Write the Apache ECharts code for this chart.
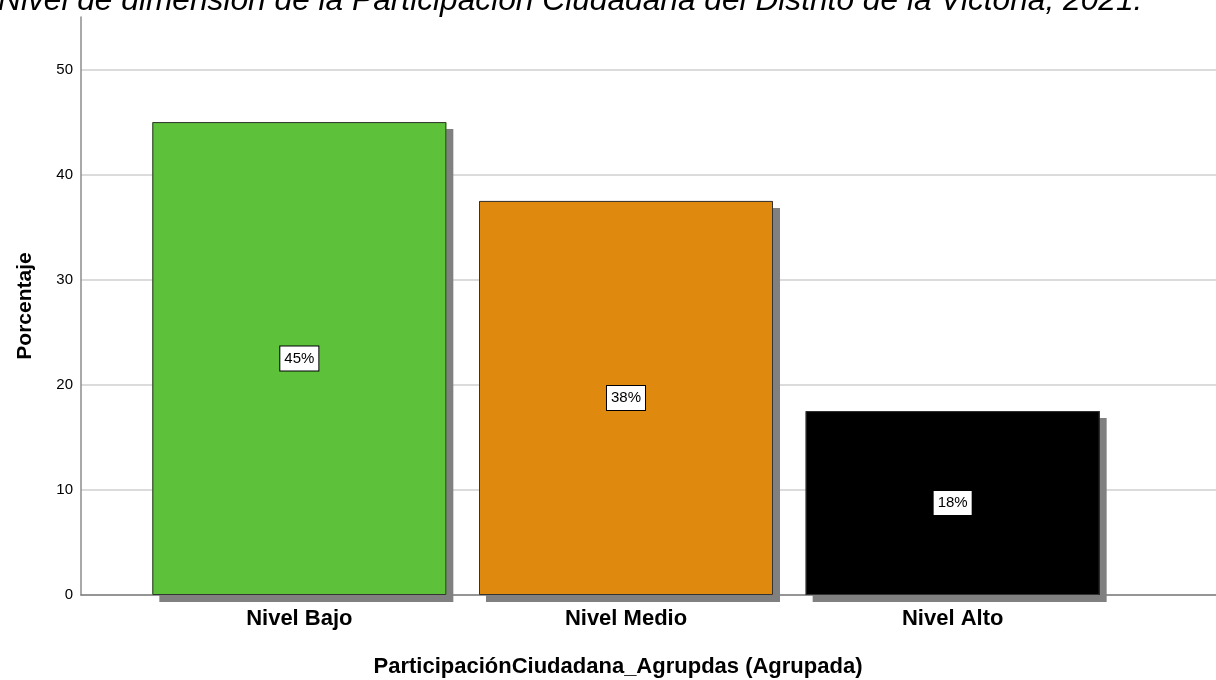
<!DOCTYPE html>
<html>
<head>
<meta charset="utf-8">
<script src="https://cdn.jsdelivr.net/npm/echarts@6/dist/echarts.min.js"></script>
<style>
html,body{margin:0;padding:0;background:#fff;}
#chart{width:1216px;height:680px;}
</style>
</head>
<body>
<div id="chart"></div>
<script>
const titleText = 'Nivel de dimensión de la Participación Ciudadana del Distrito de la Victoria, 2021.';
const categories = ['Nivel Bajo', 'Nivel Medio', 'Nivel Alto'];
const percentages = [45, 37.5, 17.5];
const yTicks = [0, 10, 20, 30, 40, 50];
const xAxisTitle = 'ParticipaciónCiudadana_Agrupdas (Agrupada)';
const yAxisTitle = 'Porcentaje';

const barColors = ['#5dc23a', '#e0890f', '#000000'];
const FONT = "'Liberation Sans', Arial, sans-serif";

const chart = echarts.init(document.getElementById('chart'));
chart.setOption({
  animation: false,
  backgroundColor: '#ffffff',
  title: {
    text: titleText,
    left: -2,
    top: -15,
    padding: 0,
    textStyle: { fontFamily: FONT, fontStyle: 'italic', fontWeight: 'normal', fontSize: 31.7, color: '#000' }
  },
  grid: [
    { left: 81, right: 0, top: 17, bottom: 85, containLabel: false, outerBoundsMode: 'none' },
    { left: 136, right: 100, top: 17, bottom: 85, containLabel: false, outerBoundsMode: 'none' }
  ],
  xAxis: [
    {
      gridIndex: 0, type: 'value', min: 0, max: 1,
      axisLine: { show: true, onZero: false, lineStyle: { color: '#7f7f7f', width: 1.5 } },
      axisTick: { show: false }, axisLabel: { show: false }, splitLine: { show: false }
    },
    {
      gridIndex: 1, type: 'category', data: categories,
      axisLine: { show: false }, axisTick: { show: false },
      axisLabel: { margin: 13, fontFamily: FONT, fontWeight: 'bold', fontSize: 22, color: '#000' },
      name: xAxisTitle, nameLocation: 'middle', nameGap: 61,
      nameTextStyle: { fontFamily: FONT, fontWeight: 'bold', fontSize: 22, color: '#000', padding: [0, 16, 0, 0] }
    }
  ],
  yAxis: [
    {
      gridIndex: 0, type: 'value', min: 0, max: 55, interval: 10,
      axisLine: { show: true, lineStyle: { color: '#8c8c8c', width: 1.5 } },
      axisTick: { show: false },
      axisLabel: {
        showMaxLabel: false, margin: 8, fontFamily: FONT, fontSize: 15, color: '#000',
        formatter: v => (yTicks.indexOf(v) >= 0 ? String(v) : '')
      },
      splitLine: { show: true, showMaxLine: false, lineStyle: { color: '#cfcfcf', width: 1.5 } },
      name: yAxisTitle, nameLocation: 'middle', nameGap: 45,
      nameTextStyle: { fontFamily: FONT, fontWeight: 'bold', fontSize: 21, color: '#000' }
    },
    {
      gridIndex: 1, type: 'value', min: 0, max: 55, interval: 10, show: false
    }
  ],
  series: [
    {
      // drop shadow layer
      type: 'bar',
      xAxisIndex: 1, yAxisIndex: 1,
      barWidth: '90%',
      silent: true,
      z: 2,
      data: percentages.map((v, i) => ({ value: v, itemStyle: { color: barColors[i] } })),
      itemStyle: {
        borderWidth: 0,
        shadowColor: '#808080', shadowBlur: 0, shadowOffsetX: 7, shadowOffsetY: 7
      },
      label: { show: false }
    },
    {
      type: 'bar',
      xAxisIndex: 1, yAxisIndex: 1,
      barWidth: '90%',
      barGap: '-100%',
      z: 3,
      data: percentages.map((v, i) => ({ value: v, itemStyle: { color: barColors[i] } })),
      itemStyle: { borderColor: '#333333', borderWidth: 1 },
      label: {
        show: true, position: 'inside',
        formatter: p => Math.round(p.value) + '%',
        fontFamily: FONT, fontSize: 15, color: '#000',
        backgroundColor: '#ffffff', borderColor: '#000', borderWidth: 1,
        padding: [5, 4, 4, 4]
      }
    }
  ]
});
</script>
</body>
</html>
